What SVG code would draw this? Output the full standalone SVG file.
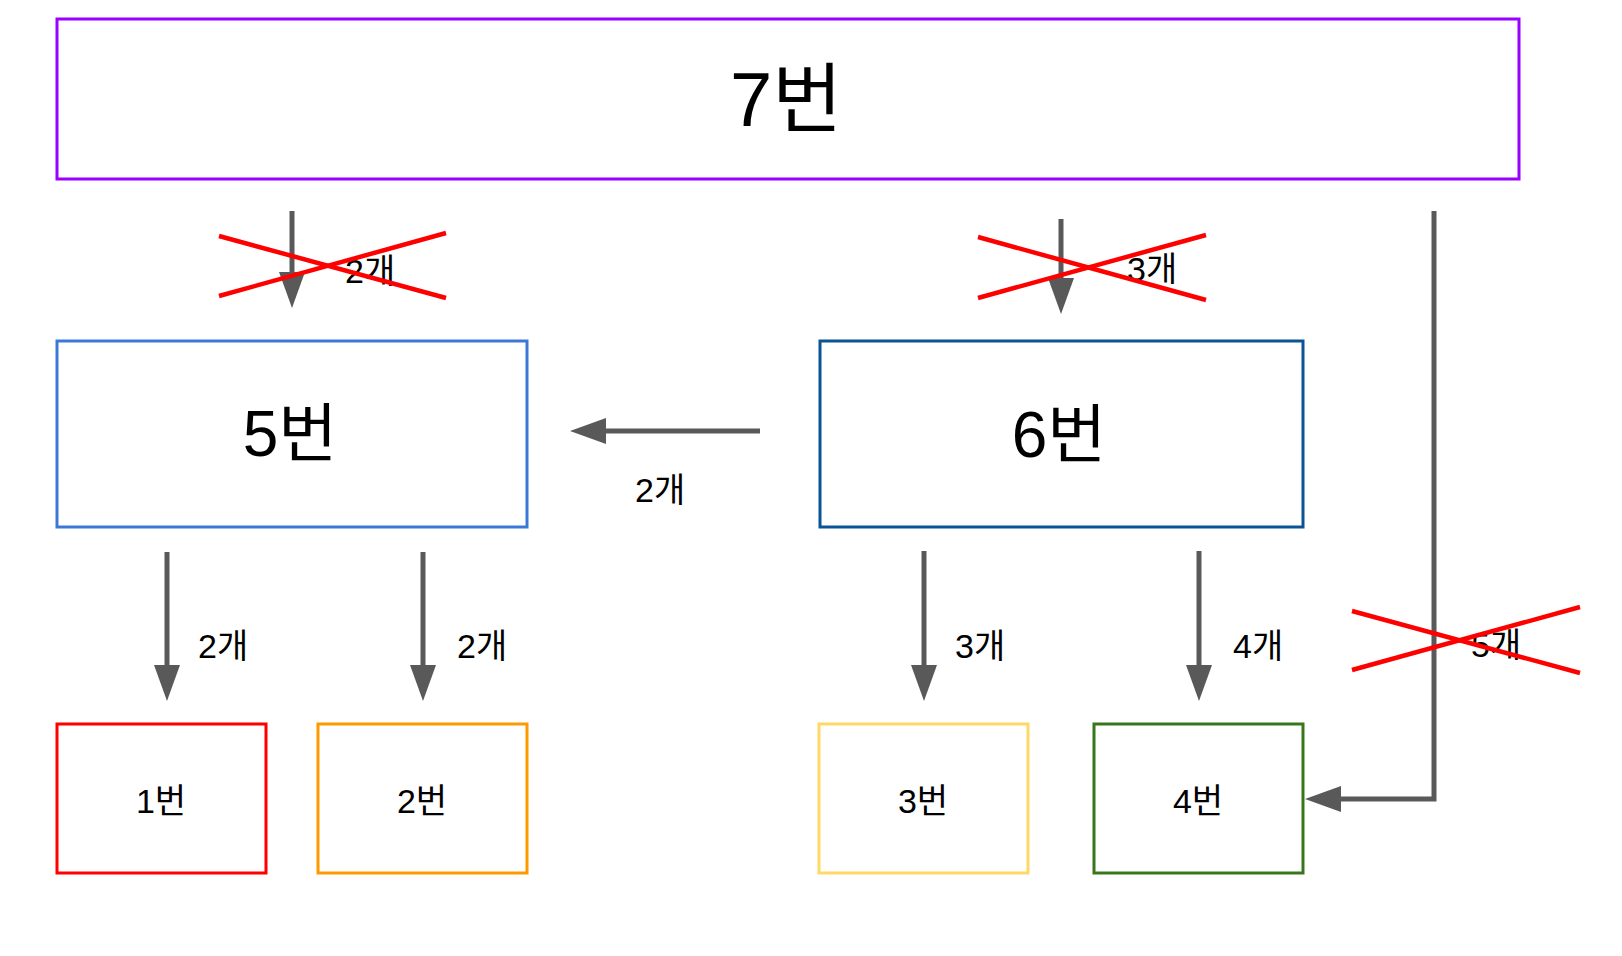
<svg xmlns="http://www.w3.org/2000/svg" width="1622" height="956" viewBox="0 0 1622 956">
  <style>
    .box { fill: #ffffff; stroke-width: 3; }
    .lbl { font-family: "Liberation Sans", "Noto Sans CJK KR", sans-serif; fill: #000000; }
    .node { text-anchor: middle; }
    .edge { font-size: 34px; }
    .conn { fill: none; stroke: #595959; stroke-width: 5; marker-end: url(#ah); }
    .cross { stroke: #ff0000; stroke-width: 4.5; }
  </style>
  <defs>
    <marker id="ah" markerUnits="userSpaceOnUse" viewBox="0 0 36 26" markerWidth="36" markerHeight="26" refX="0" refY="13" orient="auto">
      <path d="M0,0 L36,13 L0,26 z" fill="#595959"/>
    </marker>
  </defs>
  <rect width="1622" height="956" fill="#ffffff"/>

  <g id="node7">
    <rect class="box" x="57" y="19" width="1462" height="160" stroke="#9900ff"/>
    <text class="lbl node" x="786" y="126" font-size="76">7번</text>
  </g>
  <g id="node5">
    <rect class="box" x="57" y="341" width="470" height="186" stroke="#3c78d8"/>
    <text class="lbl node" x="290" y="456" font-size="64">5번</text>
  </g>
  <g id="node6">
    <rect class="box" x="820" y="341" width="483" height="186" stroke="#0b5394"/>
    <text class="lbl node" x="1059" y="457" font-size="64">6번</text>
  </g>
  <g id="node1">
    <rect class="box" x="57" y="724" width="209" height="149" stroke="#ff0000"/>
    <text class="lbl node" x="161" y="813" font-size="34">1번</text>
  </g>
  <g id="node2">
    <rect class="box" x="318" y="724" width="209" height="149" stroke="#ff9900"/>
    <text class="lbl node" x="422" y="813" font-size="34">2번</text>
  </g>
  <g id="node3">
    <rect class="box" x="819" y="724" width="209" height="149" stroke="#ffd966"/>
    <text class="lbl node" x="923" y="813" font-size="34">3번</text>
  </g>
  <g id="node4">
    <rect class="box" x="1094" y="724" width="209" height="149" stroke="#38761d"/>
    <text class="lbl node" x="1198" y="813" font-size="34">4번</text>
  </g>

  <g id="connectors">
    <path class="conn" d="M292,211 L292,272"/>
    <path class="conn" d="M1061,219 L1061,278"/>
    <path class="conn" d="M760,431 L606,431"/>
    <path class="conn" d="M167,552 L167,665"/>
    <path class="conn" d="M423,552 L423,665"/>
    <path class="conn" d="M924,551 L924,665"/>
    <path class="conn" d="M1199,551 L1199,665"/>
    <path class="conn" d="M1434,211 L1434,799 L1341,799"/>

    <text class="lbl edge" x="345" y="283">2개</text>
    <text class="lbl edge" x="1127" y="281">3개</text>
    <text class="lbl edge" x="635" y="502">2개</text>
    <text class="lbl edge" x="198" y="658">2개</text>
    <text class="lbl edge" x="457" y="658">2개</text>
    <text class="lbl edge" x="955" y="658">3개</text>
    <text class="lbl edge" x="1233" y="658">4개</text>
    <text class="lbl edge" x="1471" y="657">5개</text>

    <line class="cross" x1="219" y1="236" x2="446" y2="298"/>
    <line class="cross" x1="219" y1="296" x2="446" y2="233"/>
    <line class="cross" x1="978" y1="237" x2="1206" y2="300"/>
    <line class="cross" x1="978" y1="298" x2="1206" y2="235"/>
    <line class="cross" x1="1352" y1="611" x2="1580" y2="673"/>
    <line class="cross" x1="1352" y1="670" x2="1580" y2="607"/>
  </g>
</svg>
